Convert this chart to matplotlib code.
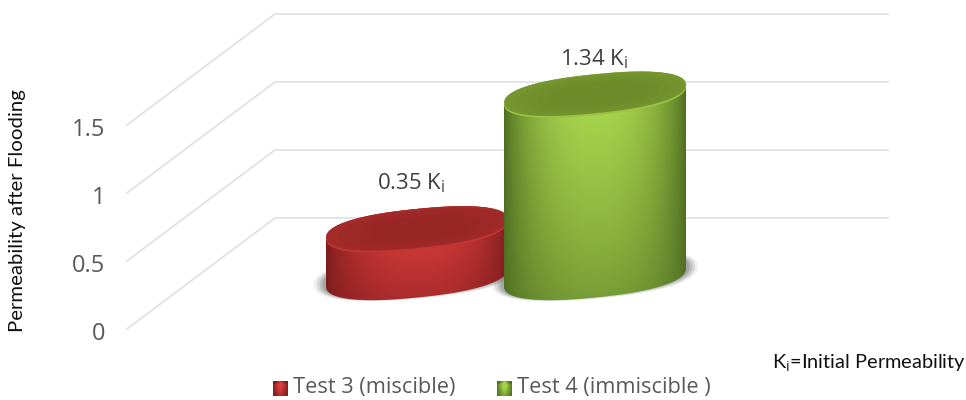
import numpy as np
import matplotlib
matplotlib.use("Agg")
import matplotlib.pyplot as plt
from matplotlib.patches import Polygon
from matplotlib.colors import to_rgb

categories = ["Test 3 (miscible)", "Test 4 (immiscible )"]
values = [0.35, 1.34]
value_labels = ["0.35 K", "1.34 K"]
y_ticks = [0, 0.5, 1, 1.5]
y_tick_labels = ["0", "0.5", "1", "1.5"]
grid_levels = [0, 0.5, 1, 1.5]
y_title = "Permeability after Flooding"
note = "K$_{\\mathrm{i}}$=Initial Permeability"

side_light = ["#d93c3c", "#a6d34b"]
side_dark = ["#7c1c1c", "#4f6e22"]
top_fill = ["#a32b2a", "#75952f"]
top_dark = ["#962625", "#6c8b2b"]
top_rim = ["#c23533", "#9cc244"]

plt.rcParams["font.family"] = ["Open Sans", "DejaVu Sans"]
plt.rcParams["mathtext.fontset"] = "custom"
plt.rcParams["mathtext.rm"] = "Open Sans"
plt.rcParams["mathtext.default"] = "rm"

W, H, DPI = 966, 400, 100
fig = plt.figure(figsize=(W / DPI, H / DPI), dpi=DPI, facecolor="white")
ax = fig.add_axes([0, 0, 1, 1])

# scales: one category step = 178 px, one value unit = 136 px
STEP, UNIT = 178.0, 136.0
X0, Y0 = 417.0, 277.0
xlim = (-X0 / STEP, (W - X0) / STEP)
ylim = ((Y0 - H) / UNIT, Y0 / UNIT)
ax.set_xlim(*xlim)
ax.set_ylim(*ylim)
ax.axis("off")

# depth of the floor, in axis units
front_x, back_x, right_x = (127 - X0) / STEP, (275 - X0) / STEP, (888 - X0) / STEP
front_dy, back_dy = (Y0 - 329) / UNIT, (Y0 - 218) / UNIT

for g in grid_levels:
    ax.plot([front_x, back_x, right_x],
            [g + front_dy, g + back_dy, g + back_dy],
            color="#e0e0e0", lw=1.2, zorder=1, solid_joinstyle="miter")

for t_, lab in zip(y_ticks, y_tick_labels):
    ax.text((105 - X0) / STEP, t_ + front_dy - 5 / UNIT, lab, ha="right", va="center",
            fontsize=17, color="#595959", zorder=5)

ax.text((17 - X0) / STEP, (Y0 - 211) / UNIT, y_title, rotation=90, ha="center", va="center",
        family=["Lato", "DejaVu Sans"], fontsize=14.7, color="#111111")
ax.text((966 - X0) / STEP, (Y0 - 363) / UNIT, note, ha="right", va="center",
        family=["Lato", "DejaVu Sans"], fontsize=14.4, color="#111111")

# cylinder geometry, in axis units
A = 91.0 / STEP      # half width
B = 20.5 / UNIT      # half height
SHEAR = 9.0 / UNIT   # tilt of the ellipse
ROUND = 0.85         # exponent that makes the outline a little fuller than an ellipse
t = np.linspace(0, 2 * np.pi, 361)


def fuller(vals):
    return np.sign(vals) * np.abs(vals) ** ROUND


def ellipse(cx, cy, a=A, b=B, s=SHEAR):
    c, d = fuller(np.cos(t)), fuller(np.sin(t))
    return np.c_[cx + a * c, cy + s * c + b * d]


def side_outline(cx, h):
    tt = np.linspace(np.pi, 2 * np.pi, 181)
    c, d = fuller(np.cos(tt)), fuller(np.sin(tt))
    lower = np.c_[cx + A * c, SHEAR * c + B * d]
    c, d = c[::-1], -d[::-1]
    upper = np.c_[cx + A * c, h + SHEAR * c + B * d]
    return np.r_[lower, upper]


def paint(poly, extent, rgba, z):
    im = ax.imshow(rgba, extent=extent, origin="lower", aspect="auto",
                   zorder=z, interpolation="bilinear")
    patch = Polygon(poly, closed=True, transform=ax.transData, fc="none", ec="none")
    ax.add_patch(patch)
    im.set_clip_path(patch)


for i, (cat, v) in enumerate(zip(categories, values)):
    z = 3 + i
    cx = float(i)
    # soft floor shadow
    for grow, al in zip([1.13, 1.10, 1.07, 1.04], [0.10, 0.16, 0.22, 0.3]):
        shadow = ellipse(cx, 0.01, A * grow, B * grow, SHEAR)
        ax.add_patch(Polygon(shadow, closed=True, fc="#6b6b6b", ec="none", alpha=al, zorder=2))

    # shaded wall
    u = np.linspace(-1, 1, 160)
    w = np.linspace(0, 1, 120)  # 0 bottom, 1 top
    U, V = np.meshgrid(u, w)
    light = np.array(to_rgb(side_light[i]))
    dark = np.array(to_rgb(side_dark[i]))
    across = np.clip(1 - np.abs(U) ** 2.2, 0, 1) ** 0.8
    along = 0.42 + 0.58 * np.clip(V * 1.25, 0, 1) ** 0.8
    mix = (across * along)[..., None]
    rgb = dark + (light - dark) * mix
    lo = -B - SHEAR
    hi = v + B + SHEAR
    paint(side_outline(cx, v), (cx - A, cx + A, lo, hi), rgb, z)

    # top face with a lighter rim along its front edge
    top = ellipse(cx, v)
    ax.add_patch(Polygon(top, closed=True, fc=top_rim[i], ec="none", zorder=z + 0.1))
    inner = ellipse(cx, v + 1.0 / UNIT, A * 0.995, B * 0.95, SHEAR)
    ax.add_patch(Polygon(inner, closed=True, fc=top_fill[i], ec="none", zorder=z + 0.2))
    for scale, al in zip([0.9, 0.78, 0.66, 0.54], [0.25, 0.25, 0.25, 0.25]):
        core = ellipse(cx + 0.02, v + 0.5 / UNIT, A * scale, B * scale, SHEAR * scale)
        ax.add_patch(Polygon(core, closed=True, fc=top_dark[i], ec="none", alpha=al, zorder=z + 0.3))

    # value label
    lx = [411, 594][i]
    ly = [183, 59][i]
    ax.text((lx - X0) / STEP, (Y0 - ly) / UNIT, value_labels[i] + "$_{\\mathrm{i}}$",
            ha="center", va="center", fontsize=16, color="#404040", zorder=8)

    # legend
    kx = [273, 497][i]
    x0, x1 = (kx - X0) / STEP, (kx + 15 - X0) / STEP
    y0, y1 = (Y0 - 396) / UNIT, (Y0 - 381) / UNIT
    U2, V2 = np.meshgrid(np.linspace(-1, 1, 20), np.linspace(0, 1, 20))
    m = (np.clip(1.1 - np.abs(U2) - (V2 - 0.75).clip(0) * 2, 0, 1) * (0.35 + 0.65 * V2))[..., None]
    ax.imshow(dark + (light - dark) * np.clip(m * 1.5, 0, 1), extent=(x0, x1, y0, y1), origin="lower",
              aspect="auto", zorder=8, interpolation="bilinear")
    ax.text((kx + 20 - X0) / STEP, (Y0 - 388) / UNIT, cat, ha="left", va="center",
            fontsize=15.7, color="#595959")

ax.set_xlim(*xlim)
ax.set_ylim(*ylim)
fig.savefig("out.png", dpi=DPI, facecolor="white")
